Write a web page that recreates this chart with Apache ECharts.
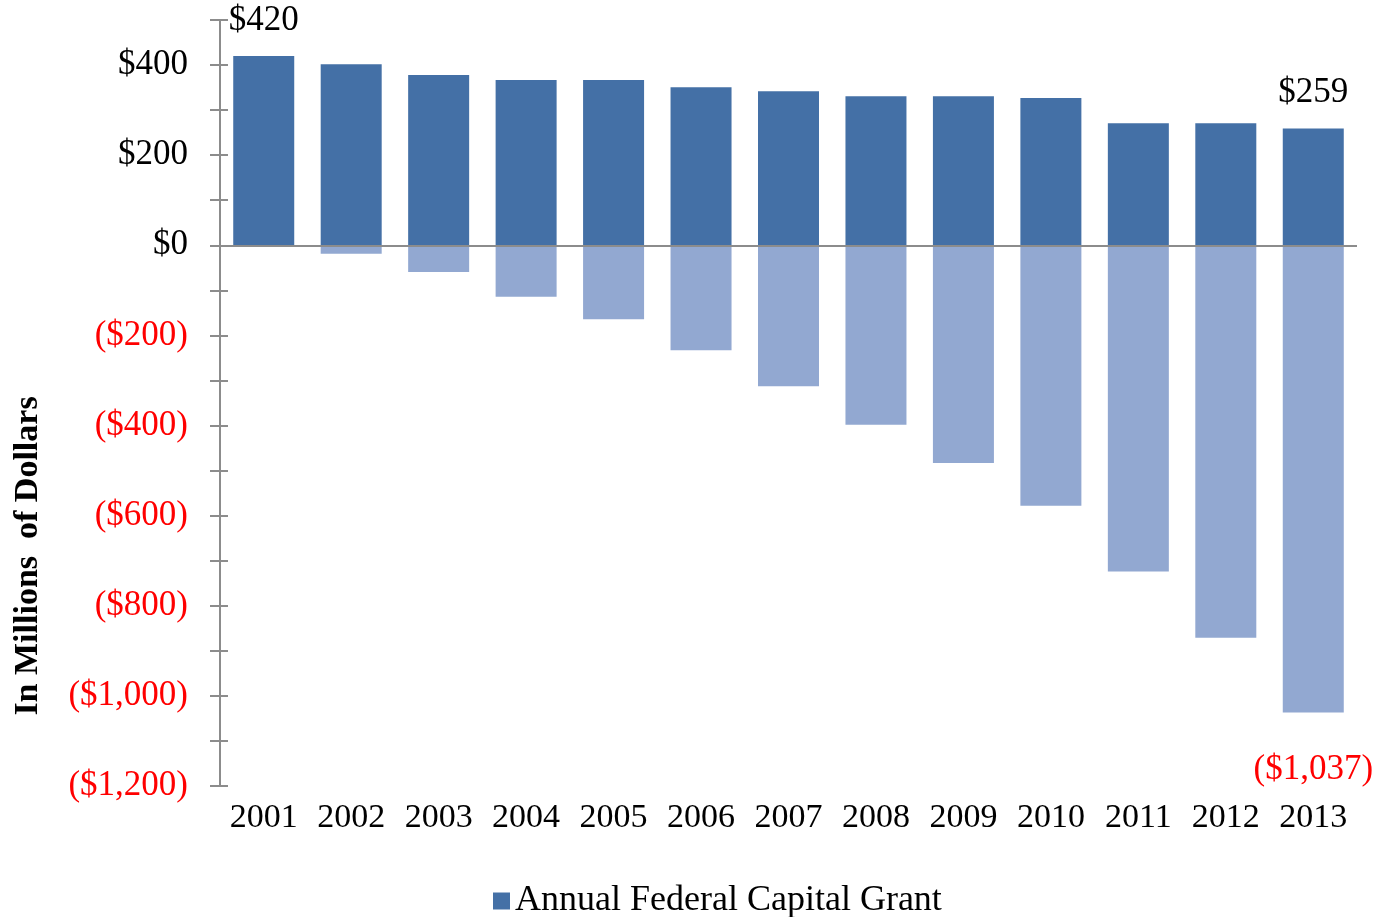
<!DOCTYPE html>
<html><head><meta charset="utf-8">
<script src="https://cdn.jsdelivr.net/npm/echarts@6/dist/echarts.min.js"></script>
<style>html,body{margin:0;padding:0;background:#fff}#c{width:1380px;height:917px}</style>
</head><body><div id="c"></div>
<script>
const years = ['2001','2002','2003','2004','2005','2006','2007','2008','2009','2010','2011','2012','2013'];
const grant = [420, 402, 378, 367, 367, 351, 342, 331, 331, 327, 271, 271, 259];
const shortfall = [0, -19, -59, -114, -164, -233, -313, -398, -483, -578, -724, -871, -1037];
const yMin = -1200, yMax = 500, yStep = 100;
const yTitle = 'In Millions  of Dollars';
const legendName = 'Annual Federal Capital Grant';

function money(v){
  const s = '$' + Math.abs(v).toLocaleString('en-US');
  return v < 0 ? '(' + s + ')' : s;
}
const font = 'Liberation Serif';
const chart = echarts.init(document.getElementById('c'), null, {renderer:'canvas'});
const axisGray = '#8c8c8c';
const yBase = {
  type:'value', min:yMin, max:yMax, interval:yStep,
  splitLine:{show:false},
  axisLine:{show:true, lineStyle:{color:axisGray, width:2}}
};
chart.setOption({
  animation:false,
  grid:{left:220, right:23, top:20, bottom:131, outerBoundsMode:'none', containLabel:false},
  legend:{
    data:[legendName], top:878, left:488,
    itemWidth:17, itemHeight:17, icon:'rect', itemGap:9,
    textStyle:{fontFamily:font, fontSize:36, color:'#000'}
  },
  graphic:[{
    type:'text', x:28, y:556, rotation:Math.PI/2,
    style:{text:yTitle, fontFamily:font, fontSize:34, fontWeight:'bold', fill:'#000', align:'center', verticalAlign:'middle'}
  }],
  xAxis:{
    type:'category', data:years,
    axisLine:{show:false}, axisTick:{show:false},
    axisLabel:{fontFamily:font, fontSize:34, color:'#000', margin:15, interval:0}
  },
  yAxis:[
    Object.assign({}, yBase, {
      axisTick:{show:true, length:10, lineStyle:{color:axisGray, width:2}},
      axisLabel:{
        fontFamily:font, fontSize:35, margin:32,
        formatter:v => (v % 200 === 0 && v !== yMax) ? money(v) : '',
        color:v => (v < 0 ? '#ff0000' : '#000')
      }
    }),
    Object.assign({}, yBase, {
      position:'left', axisLabel:{show:false},
      axisTick:{show:true, inside:true, length:8, lineStyle:{color:axisGray, width:2}}
    })
  ],
  series:[
    {
      name:legendName, type:'bar', stack:'s', data:grant,
      barWidth:61, itemStyle:{color:'#4470a6'},
      label:{
        show:true, position:'top', distance:18, fontFamily:font, fontSize:35, color:'#000',
        formatter:p => (p.dataIndex === 0 || p.dataIndex === years.length-1) ? money(p.value) : ''
      },
      markLine:{
        silent:true, symbol:'none', label:{show:false},
        lineStyle:{color:axisGray, width:2, type:'solid'},
        data:[{yAxis:0}]
      }
    },
    {
      name:'Shortfall', type:'bar', stack:'s', data:shortfall,
      barWidth:61, itemStyle:{color:'#92a8d1'},
      label:{
        show:true, position:'bottom', distance:40, fontFamily:font, fontSize:35, color:'#ff0000',
        formatter:p => (p.dataIndex === years.length-1) ? money(p.value) : ''
      }
    }
  ]
});
</script></body></html>
